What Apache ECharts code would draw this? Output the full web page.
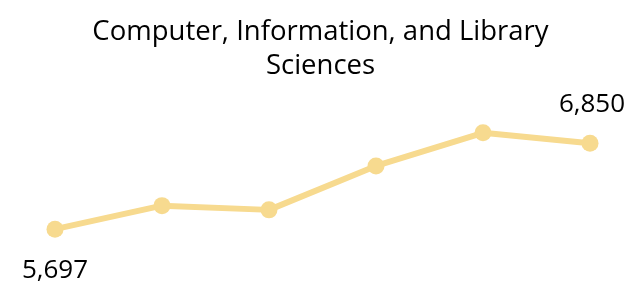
<!DOCTYPE html>
<html>
<head>
<meta charset="utf-8">
<script src="https://cdn.jsdelivr.net/npm/echarts@6/dist/echarts.min.js"></script>
<style>
  html, body { margin: 0; padding: 0; background: #fff; }
  #chart { width: 641px; height: 286px; }
</style>
</head>
<body>
<div id="chart"></div>
<script>
// data
var years = ['1', '2', '3', '4', '5', '6'];
var degrees = [5697, 6013, 5956, 6546, 6992, 6850];
var titleText = 'Computer, Information, and Library\nSciences';

var chart = echarts.init(document.getElementById('chart'));

var seriesData = degrees.map(function (v, i) {
  var item = { value: v };
  if (i === 0) {
    item.label = { show: true, position: 'bottom', distance: 20 };
  } else if (i === degrees.length - 1) {
    item.label = { show: true, position: 'top', distance: 17, offset: [2, 0] };
  }
  return item;
});

chart.setOption({
  animation: false,
  title: {
    text: titleText,
    left: 'center',
    top: 10,
    textStyle: {
      fontFamily: 'Open Sans',
      fontSize: 27.5,
      fontWeight: 'normal',
      color: '#000',
      lineHeight: 34
    }
  },
  grid: { left: 55, right: 51, top: 95, height: 186 },
  xAxis: {
    type: 'category',
    data: years,
    boundaryGap: false,
    show: false
  },
  yAxis: {
    type: 'value',
    min: 5000,
    max: 7500,
    show: false
  },
  series: [{
    type: 'line',
    data: seriesData,
    symbol: 'circle',
    symbolSize: 17,
    lineStyle: { width: 6, color: '#F7DA8F' },
    itemStyle: { color: '#F7DA8F' },
    label: {
      show: false,
      fontFamily: 'Open Sans',
      fontSize: 26,
      color: '#000',
      formatter: function (p) { return p.value.toLocaleString('en-US'); }
    }
  }]
});
</script>
</body>
</html>
